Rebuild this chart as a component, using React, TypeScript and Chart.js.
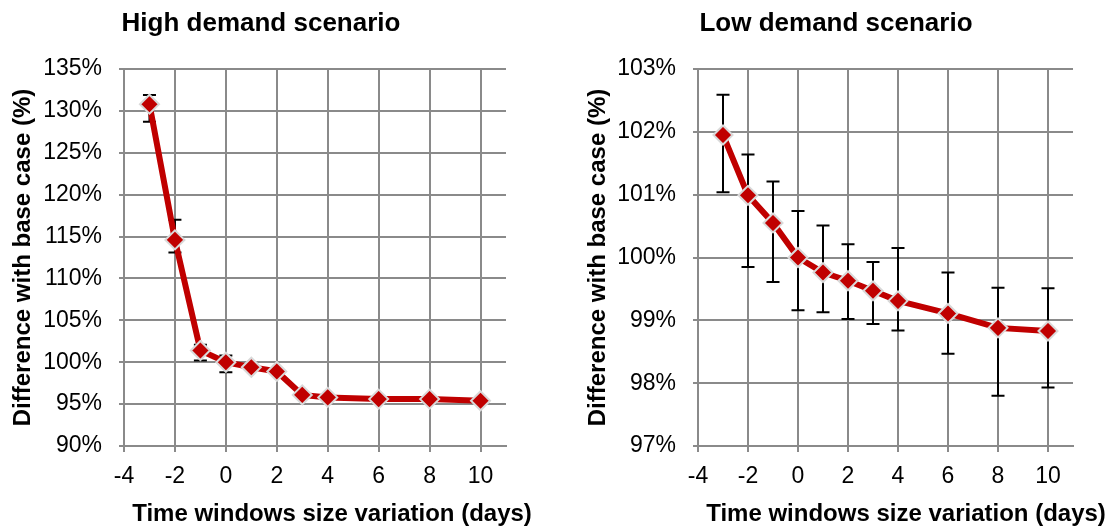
import React, { useEffect, useRef } from "react";
import { Chart, registerables } from "chart.js";

Chart.register(...registerables);

// ---- Data ----
const xValues = [-3, -2, -1, 0, 1, 2, 3, 4, 6, 8, 10];
const xTicks = [-4, -2, 0, 2, 4, 6, 8, 10];

const highValues = [130.8, 114.6, 101.4, 100.0, 99.4, 98.9, 96.1, 95.8, 95.6, 95.6, 95.4];
const highUpper = [131.9, 117.0, 102.1, 100.8, 99.7, 99.2, 96.4, 96.1, 95.9, 95.9, 95.7];
const highLower = [128.7, 113.1, 100.2, 98.8, 99.1, 98.6, 95.8, 95.5, 95.3, 95.3, 95.1];
const highYTicks = [90, 95, 100, 105, 110, 115, 120, 125, 130, 135];

const lowValues = [101.95, 100.99, 100.55, 100.0, 99.76, 99.63, 99.47, 99.31, 99.11, 98.88, 98.83];
const lowUpper = [102.59, 101.64, 101.21, 100.74, 100.51, 100.21, 99.93, 100.15, 99.76, 99.52, 99.51];
const lowLower = [101.04, 99.85, 99.61, 99.16, 99.13, 99.02, 98.94, 98.84, 98.47, 97.8, 97.93];
const lowYTicks = [97, 98, 99, 100, 101, 102, 103];

const titleHigh = "High demand scenario";
const titleLow = "Low demand scenario";
const xTitle = "Time windows size variation (days)";
const yTitle = "Difference with base case (%)";

const FONT = "'Liberation Sans', Arial, sans-serif";
const GRID = "#8a8a8a";
const RED = "#C00000";

type PanelProps = {
  left: number;
  title: string;
  values: number[];
  upper: number[];
  lower: number[];
  yTicks: number[];
  yMin: number;
  yMax: number;
  yAxisWidth: number;
  padRight: number;
  titleX: number;
  xTitleX: number;
  yTitleBaseX: number;
};

const W = 556;
const H = 529;

function Panel(p: PanelProps) {
  const ref = useRef<HTMLCanvasElement | null>(null);
  useEffect(() => {
    if (!ref.current) return;
    const errorBars = {
      id: "errorBars",
      beforeDatasetsDraw(chart: any) {
        const { ctx, scales } = chart;
        const xs = scales.x;
        const ys = scales.y;
        ctx.save();
        ctx.strokeStyle = "#000000";
        ctx.lineWidth = 2;
        for (let i = 0; i < xValues.length; i++) {
          const x = xs.getPixelForValue(xValues[i]);
          const yt = ys.getPixelForValue(p.upper[i]);
          const yb = ys.getPixelForValue(p.lower[i]);
          ctx.beginPath();
          ctx.moveTo(x, yt);
          ctx.lineTo(x, yb);
          ctx.moveTo(x - 6.5, yt);
          ctx.lineTo(x + 6.5, yt);
          ctx.moveTo(x - 6.5, yb);
          ctx.lineTo(x + 6.5, yb);
          ctx.stroke();
        }
        ctx.restore();
      },
    };
    const texts = {
      id: "texts",
      afterDraw(chart: any) {
        const { ctx, chartArea } = chart;
        ctx.save();
        ctx.fillStyle = "#000000";
        ctx.textAlign = "center";
        ctx.textBaseline = "alphabetic";
        ctx.font = `bold 26px ${FONT}`;
        ctx.fillText(p.title, p.titleX, 31);
        ctx.font = `bold 24px ${FONT}`;
        ctx.fillText(xTitle, p.xTitleX, 521);
        ctx.translate(p.yTitleBaseX, (chartArea.top + chartArea.bottom) / 2);
        ctx.rotate(-Math.PI / 2);
        ctx.fillText(yTitle, 0, 0);
        ctx.restore();
      },
    };
    const chart = new Chart(ref.current, {
      type: "line",
      data: {
        datasets: [
          {
            data: xValues.map((x, i) => ({ x, y: p.values[i] })),
            borderColor: RED,
            borderWidth: 6,
            backgroundColor: RED,
            pointStyle: "rectRot",
            pointRadius: 9.5,
            pointBackgroundColor: RED,
            pointBorderColor: "#d9d9d9",
            pointBorderWidth: 2,
            tension: 0,
            fill: false,
          },
        ],
      },
      options: {
        animation: false,
        responsive: false,
        devicePixelRatio: 1,
        layout: { padding: { left: 0, top: 69, right: p.padRight, bottom: 0 } },
        plugins: { legend: { display: false }, tooltip: { enabled: false }, title: { display: false } },
        scales: {
          x: {
            type: "linear",
            min: -4,
            max: 11,
            afterBuildTicks: (s: any) => {
              s.ticks = xTicks.map((v) => ({ value: v }));
            },
            afterFit: (s: any) => {
              s.height = 83;
            },
            grid: { color: GRID, lineWidth: 2, tickLength: 6, drawTicks: true },
            border: { color: GRID, width: 2 },
            ticks: {
              color: "#000000",
              font: { family: FONT, size: 23 },
              padding: 11,
              maxRotation: 0,
              autoSkip: false,
              callback: (v: any) => String(v),
            },
          },
          y: {
            type: "linear",
            min: p.yMin,
            max: p.yMax,
            afterBuildTicks: (s: any) => {
              s.ticks = p.yTicks.map((v) => ({ value: v }));
            },
            afterFit: (s: any) => {
              s.width = p.yAxisWidth;
            },
            grid: { color: GRID, lineWidth: 2, tickLength: 5, drawTicks: true },
            border: { color: GRID, width: 2 },
            ticks: {
              color: "#000000",
              font: { family: FONT, size: 23 },
              padding: 17,
              autoSkip: false,
              callback: (v: any) => v + "%",
            },
          },
        },
      },
      plugins: [errorBars, texts],
    } as any);
    return () => chart.destroy();
  }, []);
  return (
    <div style={{ position: "absolute", left: p.left, top: 0, width: W, height: H }}>
      <canvas ref={ref} width={W} height={H} style={{ width: W, height: H, display: "block" }} />
    </div>
  );
}

export default function App() {
  return (
    <div style={{ position: "absolute", left: 0, top: 0, width: 1112, height: 529, background: "#ffffff", overflow: "hidden" }}>
      <Panel
        left={0}
        title={titleHigh}
        values={highValues}
        upper={highUpper}
        lower={highLower}
        yTicks={highYTicks}
        yMin={90}
        yMax={135}
        yAxisWidth={124}
        padRight={50}
        titleX={261}
        xTitleX={332}
        yTitleBaseX={30}
      />
      <Panel
        left={556}
        title={titleLow}
        values={lowValues}
        upper={lowUpper}
        lower={lowLower}
        yTicks={lowYTicks}
        yMin={97}
        yMax={103}
        yAxisWidth={142}
        padRight={39}
        titleX={280}
        xTitleX={350}
        yTitleBaseX={49}
      />
    </div>
  );
}
